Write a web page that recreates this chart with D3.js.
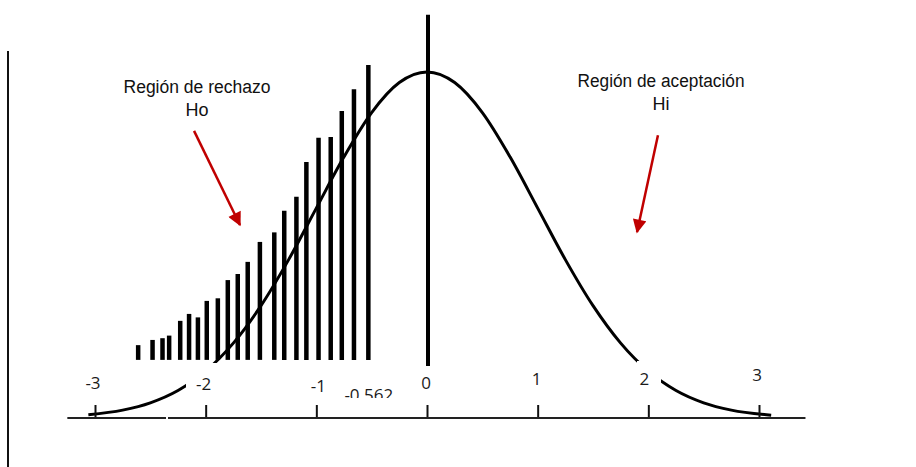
<!DOCTYPE html>
<html>
<head>
<meta charset="utf-8">
<script src="https://cdn.jsdelivr.net/npm/d3@7"></script>
<style>
  body { margin: 0; background: #fff; }
  svg { display: block; }
</style>
</head>
<body>
<div id="graph"></div>
<script>
// Normal curve (density)
const curveZ = [-3.06, -2.75, -2.5, -2.25, -2, -1.75, -1.5, -1.25, -1, -0.75, -0.5, -0.25, 0,
  0.25, 0.5, 0.75, 1, 1.25, 1.5, 1.75, 2, 2.25, 2.5, 2.75, 3.11];
const curveDensity = [0.0037, 0.0091, 0.0175, 0.0317, 0.054, 0.0863, 0.1295, 0.1826, 0.242, 0.3011, 0.3521, 0.3867, 0.3989,
  0.3867, 0.3521, 0.3011, 0.242, 0.1826, 0.1295, 0.0863, 0.054, 0.0317, 0.0175, 0.0091, 0.0032];

// Hatch bars of the rejection region
const hatchZ = [-2.61, -2.48, -2.39, -2.33, -2.23, -2.15, -2.07, -1.99, -1.89, -1.80, -1.71,
  -1.62, -1.51, -1.38, -1.29, -1.18, -1.09, -0.98, -0.87, -0.77, -0.66, -0.53];
const hatchTop = [0.084, 0.090, 0.092, 0.095, 0.112, 0.120, 0.116, 0.135, 0.138, 0.159, 0.166,
  0.180, 0.203, 0.214, 0.239, 0.255, 0.295, 0.323, 0.324, 0.354, 0.379, 0.407];
const hatchBase = 0.067;

// Axis
const tickValues = [-3, -2, -1, 0, 1, 2, 3];
const tickLabels = ["-3", "-2", "-1", "0", "1", "2", "3"];
const axisExtent = [-3.25, 3.42];
const criticalValue = -0.562;
const criticalLabel = "-0.562";
const meanLine = [0.06, 0.465];

// Annotations
const rejectText = ["Región de rechazo", "Ho"];
const acceptText = ["Región de aceptación", "Hi"];

const width = 916, height = 467;

const svg = d3.select("#graph")
  .append("svg")
  .attr("width", width)
  .attr("height", height);

const x = d3.scaleLinear().domain([-3, 3]).range([95, 759]);
const y = d3.scaleLinear().domain([0, 0.3989]).range([418, 72]);

// left frame line
svg.append("line")
  .attr("x1", 8).attr("x2", 8)
  .attr("y1", 51).attr("y2", height)
  .attr("stroke", "#111")
  .attr("stroke-width", 2);

// curve
const curveData = curveZ.map((z, i) => ({ z, d: curveDensity[i] }));
svg.append("path")
  .datum(curveData)
  .attr("fill", "none")
  .attr("stroke", "#000")
  .attr("stroke-width", 3)
  .attr("d", d3.line().x(d => x(d.z)).y(d => y(d.d)).curve(d3.curveMonotoneX));

// hatch bars
svg.append("g")
  .selectAll("line")
  .data(hatchZ)
  .join("line")
  .attr("x1", d => x(d)).attr("x2", d => x(d))
  .attr("y1", y(hatchBase))
  .attr("y2", (d, i) => y(hatchTop[i]))
  .attr("stroke", "#000")
  .attr("stroke-width", 4.5);

// mean line
svg.append("line")
  .attr("x1", x(0) + 1).attr("x2", x(0) + 1)
  .attr("y1", y(meanLine[0])).attr("y2", y(meanLine[1]))
  .attr("stroke", "#000")
  .attr("stroke-width", 4);

// white label boxes that cut the curve
svg.append("rect").attr("x", 186).attr("y", 363).attr("width", 42).attr("height", 36).attr("fill", "#fff");
svg.append("rect").attr("x", 637).attr("y", 361).attr("width", 24).attr("height", 38).attr("fill", "#fff");

// x axis
const axisG = svg.append("g")
  .attr("transform", `translate(0, ${y(0)})`)
  .call(d3.axisBottom(x).tickValues(tickValues).tickSize(-13).tickFormat(""));
axisG.select(".domain").remove();
axisG.selectAll(".tick line").attr("stroke", "#111").attr("stroke-width", 2);

svg.append("line")
  .attr("x1", x(axisExtent[0])).attr("x2", x(axisExtent[1]))
  .attr("y1", y(0)).attr("y2", y(0))
  .attr("stroke", "#222")
  .attr("stroke-width", 2);
svg.append("rect").attr("x", 166).attr("y", 414).attr("width", 2).attr("height", 8).attr("fill", "#fff");

// tick labels
const labelBase = [389, 390, 392, 389, 385, 385, 381];
const labelDx = [-2, -2, 2, -1, -1, -4, -2];
svg.append("g")
  .selectAll("text")
  .data(tickValues)
  .join("text")
  .attr("x", (d, i) => x(d) + labelDx[i])
  .attr("y", (d, i) => labelBase[i])
  .attr("text-anchor", "middle")
  .style("font-family", "'Open Sans', sans-serif")
  .style("font-size", "17px")
  .style("fill", "#1a1a1a")
  .text((d, i) => tickLabels[i]);

// critical value label, clipped at the bottom
svg.append("clipPath").attr("id", "critClip")
  .append("rect").attr("x", 330).attr("y", 370).attr("width", 80).attr("height", 28);
svg.append("text")
  .attr("clip-path", "url(#critClip)")
  .attr("x", x(criticalValue) + 4)
  .attr("y", 401)
  .attr("text-anchor", "middle")
  .style("font-family", "'Open Sans', sans-serif")
  .style("font-size", "17px")
  .style("fill", "#1a1a1a")
  .text(criticalLabel);

// annotation texts
function block(lines, cx, baselines, widths) {
  lines.forEach((t, i) => {
    const txt = svg.append("text")
      .attr("x", cx)
      .attr("y", baselines[i])
      .attr("text-anchor", "middle")
      .style("font-family", "'Liberation Sans', Arial, sans-serif")
      .style("font-size", "18px")
      .style("fill", "#111")
      .text(t);
    if (widths[i]) txt.attr("textLength", widths[i]).attr("lengthAdjust", "spacingAndGlyphs");
  });
}
block(rejectText, 197, [93, 116], [147, 0]);
block(acceptText, 661, [87, 110], [167, 0]);

// arrows
const red = "#c00000";
svg.append("defs").append("marker")
  .attr("id", "head")
  .attr("viewBox", "0 0 10 10")
  .attr("refX", 9).attr("refY", 5)
  .attr("markerWidth", 6).attr("markerHeight", 5.5)
  .attr("markerUnits", "strokeWidth")
  .attr("orient", "auto")
  .append("path")
  .attr("d", "M0,0 L10,5 L0,10 Z")
  .attr("fill", red);

const arrows = [
  { from: [-2.105, 0.331], to: [-1.69, 0.2225] },
  { from: [2.087, 0.326], to: [1.898, 0.2144] }
];
svg.append("g")
  .selectAll("line")
  .data(arrows)
  .join("line")
  .attr("x1", d => x(d.from[0])).attr("y1", d => y(d.from[1]))
  .attr("x2", d => x(d.to[0])).attr("y2", d => y(d.to[1]))
  .attr("stroke", red)
  .attr("stroke-width", 2.5)
  .attr("marker-end", "url(#head)");
</script>
</body>
</html>
